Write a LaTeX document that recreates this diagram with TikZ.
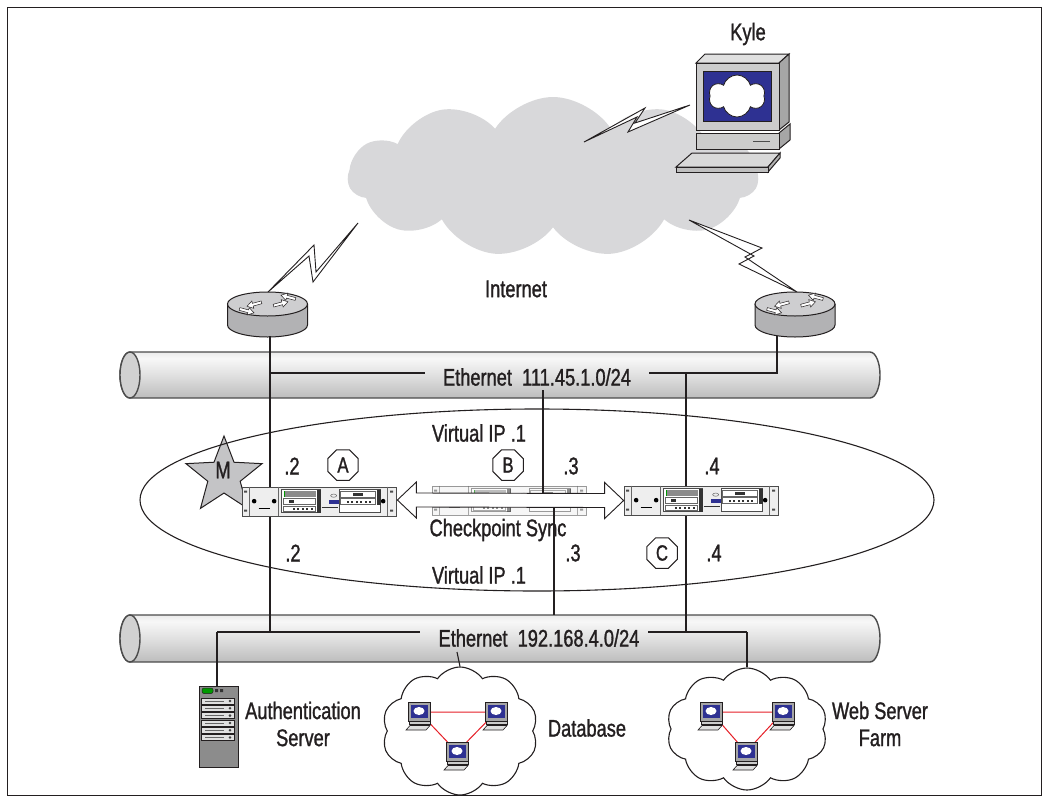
\documentclass[tikz,border=0pt]{standalone}
\usepackage{fontspec}
\setmainfont{Liberation Sans}[FakeStretch=0.76,FakeBold=1.2]
\usetikzlibrary{shapes.symbols,shapes.geometric,calc,arrows.meta}

\definecolor{ink}{RGB}{35,31,32}
\definecolor{cloudfill}{RGB}{216,216,218}
\definecolor{devfill}{RGB}{238,238,238}
\definecolor{scrblue}{RGB}{46,49,146}
\definecolor{rtrside}{RGB}{178,178,180}
\definecolor{rtrtop}{RGB}{206,206,208}
\definecolor{linkred}{RGB}{230,32,40}
\definecolor{startone}{RGB}{196,196,198}

\pgfdeclareverticalshading{pipeshade}{100bp}{color(0bp)=(black!40); color(50bp)=(black!12); color(68bp)=(black!3); color(100bp)=(black!24)}

\tikzset{
  lbl/.style={font=\fontsize{24}{27}\selectfont, text=ink, inner sep=1pt, align=center},
  oct/.style={regular polygon, regular polygon sides=8, draw=ink, line width=1, minimum size=33,
    inner sep=0pt, font=\fontsize{22}{22}\selectfont, text=ink},
  wire/.style={draw=ink, line width=1.1},
  pipe/.style={draw=black!70, line width=1.4, shading=pipeshade},
  devbox/.style={rectangle, draw=black!70, fill=devfill, line width=0.7, minimum width=154,
    minimum height=29, inner sep=0pt},
  bolt/.style={draw=ink, fill=white, line width=0.9, line join=miter},
  netcloud/.style={cloud, cloud ignores aspect, draw=ink, fill=white, line width=1.1,
    cloud puffs=10, cloud puff arc=110, inner sep=0pt},
  redlink/.style={draw=linkred, line width=1},
  syncarrow/.style={draw=ink, fill=white, line width=0.9, line join=miter},
  % small white arrow used on the router tops, pointing along +x
  rarrow/.pic={
    \draw[ink, line width=0.5, fill=white] (0,-1.4) -- (9,-1.4) -- (9,-3.8) -- (15,0) -- (9,3.8) -- (9,1.4) -- (0,1.4) -- cycle;
  },
  % router: origin at the centre of the top face
  router/.pic={
    \fill[rtrside] (-40,0) -- (-40,21) arc[start angle=180, end angle=0, x radius=40, y radius=12] -- (40,0) -- cycle;
    \draw[ink, line width=1] (-40,0) -- (-40,21) arc[start angle=180, end angle=0, x radius=40, y radius=12] -- (40,0);
    \draw[ink, line width=1, fill=rtrtop] (0,0) ellipse[x radius=40, y radius=12];
    \begin{scope}[yscale=0.55]
      \pic[rotate=195] at (-6,-3) {rarrow};
      \pic[rotate=15] at (6,3) {rarrow};
      \pic[rotate=165] at (28,-9) {rarrow};
      \pic[rotate=-15] at (-28,9) {rarrow};
    \end{scope}
  },
  % front panel of a firewall appliance: origin at its top-left corner
  fwdetail/.pic={
    \draw[black!60, line width=0.5] (8,0) -- (8,29) (146,0) -- (146,29) (37,0) -- (37,29);
    \fill[black!70] (2.5,4) rectangle (5.5,6) (2.5,23) rectangle (5.5,25)
                    (148.5,4) rectangle (151.5,6) (148.5,23) rectangle (151.5,25);
    \fill[black] (12.5,14.5) circle (2.3) (32.5,14.5) circle (2.3) (141.5,14.5) circle (2.3);
    \draw[black, line width=1.3] (17,21.5) -- (28,21.5);
    \draw[black!70, line width=0.5, fill=white] (40,3) rectangle (79,26);
    \fill[black!45] (42,4.5) rectangle (74,10.5);
    \fill[green!60!black] (42,4.5) rectangle (43.6,10.5);
    \draw[black!60, line width=0.4, fill=white] (42,12) rectangle (74,18);
    \fill[black!80] (47,13.5) rectangle ++(5,3);
    \draw[black!60, line width=0.4, fill=white] (42,19.5) rectangle (74,25);
    \foreach \i in {0,...,4} \fill[black!80] (51+\i*4.5,21) rectangle ++(2,2);
    \fill[black!80] (75,3) rectangle (79,26);
    \draw[black!80, line width=1] (80,21) -- (96,21);
    \fill[scrblue] (87,13) rectangle (99,17.5);
    \draw[black!60, line width=0.5] (92,9) ellipse (3 and 1.6);
    \draw[black!70, line width=0.5, fill=white] (98,3) rectangle (139,26);
    \draw[black!60, line width=0.4] (99,4.5) rectangle (134,10.5);
    \fill[black!80] (111,6) rectangle (121,9);
    \draw[black!60, line width=0.4] (99,12) rectangle (134,18);
    \foreach \i in {0,...,5} \fill[black!80] (105+\i*4.5,14) rectangle ++(2,2);
    \fill[black!80] (135,3) rectangle (139,18);
  },
  % small workstation: origin at the centre of the monitor
  pc/.pic={
    \draw[ink, line width=0.7, fill=black!35] (-11,-10) rectangle (11,9);
    \fill[scrblue] (-8.5,-7.5) rectangle (8.5,6);
    \fill[white] (0,-1) ellipse (5.5 and 4);
    \draw[ink, line width=0.6, fill=black!20] (-10,9) rectangle (11,12);
    \draw[ink, line width=0.6, fill=black!12] (-9,13.5) -- (11,13.5) -- (7,18) -- (-13,18) -- cycle;
  }
}

\begin{document}
\begin{tikzpicture}[x=1pt,y=-1pt]
\useasboundingbox (0,0) rectangle (1049,803);
\draw[ink, line width=1] (7.5,7.5) rectangle (1041.5,795.5);

% ---- the Internet and the remote user
\node[cloud, cloud ignores aspect, cloud puffs=11, cloud puff arc=115, fill=cloudfill,
      minimum width=410, minimum height=160, inner sep=0pt] (inet cloud) at (553,177) {};

\draw[bolt] (268,292) -- (314,245) -- (316,272) -- (358,223) -- (313,282) -- (309,256) -- cycle;
\draw[bolt] (689,220) -- (762,248) -- (745,257) -- (797,292) -- (739,264) -- (754,256) -- cycle;
\draw[bolt] (584,142) -- (645,108) -- (635,123) -- (690,105) -- (628,132) -- (637,117) -- cycle;

% Kyle's workstation
\draw[ink, line width=1, fill=black!12] (696,63) -- (705,54) -- (789,54) -- (779,63) -- cycle;
\draw[ink, line width=1, fill=black!35] (779,63) -- (789,54) -- (789,122) -- (779,130) -- cycle;
\draw[ink, line width=1, fill=black!20] (696,63) rectangle (779,130);
\draw[ink, line width=1, fill=scrblue] (703,71) rectangle (771,121);
\node[cloud, cloud ignores aspect, cloud puffs=6, draw=ink, fill=white, line width=0.8,
      minimum width=56, minimum height=42, inner sep=0pt] (kyle screen) at (737,96) {};
\draw[ink, line width=1, fill=black!35] (779,133) -- (790,124) -- (790,140) -- (779,149) -- cycle;
\draw[ink, line width=1, fill=black!20] (696,133) rectangle (779,149);
\draw[black!70, line width=1] (753,141) -- (770,141);
\draw[ink, line width=1, fill=black!15] (692,153) -- (780,153) -- (768,167) -- (676,167) -- cycle;
\draw[ink, line width=1, fill=black!30] (768,167) -- (780,153) -- (780,158) -- (768,172) -- cycle;
\draw[ink, line width=1, fill=black!25] (676,167) rectangle (768,172);

% ---- routers
\pic at (267.5,304) {router};
\pic at (795,304) {router};

% ---- the two Ethernet segments
\path[pipe] (130,352) -- (870,352) arc[start angle=-90, end angle=90, x radius=10, y radius=23]
            -- (130,398) arc[start angle=90, end angle=270, x radius=10, y radius=23] -- cycle;
\draw[black!70, line width=1.4, fill=black!18] (130,375) ellipse[x radius=10, y radius=23];
\path[pipe] (130,615) -- (870,615) arc[start angle=-90, end angle=90, x radius=10, y radius=23.5]
            -- (130,662) arc[start angle=90, end angle=270, x radius=10, y radius=23.5] -- cycle;
\draw[black!70, line width=1.4, fill=black!18] (130,638.5) ellipse[x radius=10, y radius=23.5];

% ---- junction points of the cabling
\coordinate (rL) at (270,336);
\coordinate (rR) at (777,336);
\coordinate (tapL1) at (270,373);
\coordinate (tapR1) at (777,373);
\coordinate (bus1L) at (425,373);
\coordinate (bus1R) at (649,373);
\coordinate (tapL2) at (270,632);
\coordinate (bus2L) at (420,632);
\coordinate (bus2R) at (648,632);
\coordinate (authtap) at (217,632);
\coordinate (webtap) at (747,632);
\coordinate (fwCup) at (686,373);
\coordinate (fwCdown) at (686,632);

\draw[wire] (rL) -- (tapL2);
\draw[wire] (tapL1) -- (bus1L);
\draw[wire] (rR) -- (tapR1) -- (bus1R);
\draw[wire] (fwCup) -- (fwCdown);
\draw[wire] (authtap) -- (bus2L);
\draw[wire] (bus2R) -- (webtap);

% ---- the cluster
\node[star, star points=5, star point ratio=2.35, fill=startone, draw=ink, line width=1,
      minimum size=80, inner sep=0pt] (master star) at (224,476) {};
\node[font=\fontsize{24}{24}\selectfont, text=ink, inner sep=0pt] (master) at (223,470) {M};
\draw[wire] (537,500) ellipse[x radius=397, y radius=91];

\node[devbox] (fwA) at (319,501.5) {};
\pic at (fwA.north west) {fwdetail};
\node[devbox] (fwC) at (701,500.5) {};
\pic at (fwC.north west) {fwdetail};
\begin{scope}[opacity=0.55]
  \node[devbox] (fwB) at (509,500.5) {};
  \pic at (fwB.north west) {fwdetail};
\end{scope}

\coordinate (fwBup) at (543,390);
\coordinate (fwBin) at (543,494);
\coordinate (fwBout) at (554,506);
\coordinate (fwBdown) at (554,615);
\draw[wire] (fwBup) -- (fwBin);
\draw[wire] (fwBout) -- (fwBdown);

% state synchronisation between the members
\draw[syncarrow] (fwA.east) ++(1,-1.5) -- ++(19,-18) -- ++(0,11) -- ($(fwC.west)+(-19,-7)$)
   -- ++(0,-11) -- ($(fwC.west)+(0,0)$) -- ++(-19,18) -- ++(0,-11) -- ($(fwA.east)+(20,5.5)$)
   -- ++(0,11) -- cycle;

% ---- labels
\node[lbl] (kyle) at (748,34) {Kyle};
\node[lbl] (inet) at (516,289) {Internet};
\node[lbl] (eth1) at (537,377) {Ethernet\ \ 111.45.1.0/24};
\node[lbl] (vip1) at (479,433) {Virtual IP .1};
\node[lbl] (a2) at (292,466) {.2};
\node[oct] (octA) at (343,465) {A};
\node[oct] (octB) at (508,465) {B};
\node[lbl] (b3) at (571,466) {.3};
\node[lbl] (c4) at (712,466) {.4};
\node[lbl] (syncl) at (498,530) {Checkpoint Sync};
\node[lbl] (a2b) at (293,553) {.2};
\node[lbl] (b3b) at (573,553) {.3};
\node[oct] (octC) at (662,553) {C};
\node[lbl] (c4b) at (714,553) {.4};
\node[lbl] (vip2) at (479,575) {Virtual IP .1};
\node[lbl] (eth2) at (539,638) {Ethernet\ \ 192.168.4.0/24};

% ---- hosts on the inside
% authentication server
\draw[ink, line width=0.8, fill=black!45] (199,686) rectangle (238,767);
\draw[ink, line width=0.5, fill=green!60!black, rounded corners=2] (202,688) rectangle (213,693.5);
\fill[black!80] (215,689) rectangle (218,692) (220,689) rectangle (223,692);
\foreach \i in {0,...,5} {
  \draw[ink, line width=0.5, fill=black!12] (201,698+\i*7.3) rectangle (234,704+\i*7.3);
  \draw[black!60, line width=0.5] (205,701+\i*7.3) -- (224,701+\i*7.3);
  \fill[black!75] (230,701+\i*7.3) circle (1.4);
}
\coordinate (authtop) at (217,686);
\draw[wire] (authtap) -- (authtop);
\node[lbl] (authlbl) at (303,724) {Authentication\\Server};

% database cluster
\node[netcloud, minimum width=156, minimum height=128] (dbcloud) at (460,731) {};
\coordinate (db1) at (419,712);
\coordinate (db2) at (496,712);
\coordinate (db3) at (457,752);
\draw[redlink] (db1) -- (db2) (db1) -- (db3) (db2) -- (db3);
\pic at (db1) {pc};
\pic at (db2) {pc};
\pic at (db3) {pc};
\coordinate (dbtap) at (457,652);
\draw[wire] (dbtap) -- (dbcloud.north);
\node[lbl] (dblbl) at (587,728) {Database};

% web server farm
\node[netcloud, minimum width=161, minimum height=122] (webcloud) at (747,729) {};
\coordinate (web1) at (711,712);
\coordinate (web2) at (783,712);
\coordinate (web3) at (746,752);
\draw[redlink] (web1) -- (web2) (web1) -- (web3) (web2) -- (web3);
\pic at (web1) {pc};
\pic at (web2) {pc};
\pic at (web3) {pc};
\draw[wire] (webtap) -- (webcloud.north);
\node[lbl] (weblbl) at (880,724) {Web Server\\Farm};
\end{tikzpicture}
\end{document}
